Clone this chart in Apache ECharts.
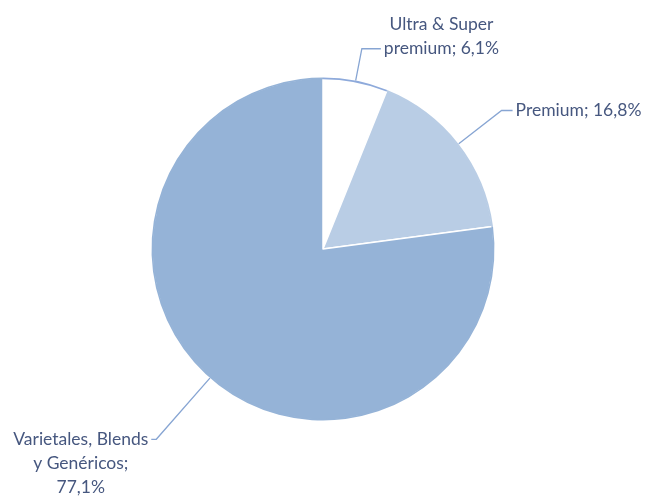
<!DOCTYPE html>
<html>
<head>
<meta charset="utf-8">
<script src="https://cdn.jsdelivr.net/npm/echarts@6/dist/echarts.min.js"></script>
<style>
  html, body { margin: 0; padding: 0; background: #ffffff; }
  #chart { width: 646px; height: 498px; }
</style>
</head>
<body>
<div id="chart"></div>
<script>
// Wine segment shares (%)
const segmentNames = ['Ultra & Super\npremium', 'Premium', 'Varietales, Blends\ny Genéricos'];
const segmentValues = [6.1, 16.8, 77.1];
// separator between name and value in each label
const valueSeparators = [' ', ' ', '\n'];

const fillColors = ['#ffffff', '#b9cde5', '#95b3d7'];
const rimColors = ['#8eaadb', '#b9cde5', '#95b3d7'];
const lineColor = '#87a5d3';
const textColor = '#46577f';
const FONT = 'Lato';
const FS = 17.5;
const LH = 24;

// per-slice label line geometry and label box padding
const lineLengths = [[33, 19], [55, 11], [82, 5]];
const labelPadding = [[0, 0, LH, 0], [0, 0, 0, 0], [2 * LH, 0, 0, 0]];

function fmtValue(v) {
  return v.toFixed(1).replace('.', ',') + '%';
}

const mainData = segmentNames.map((name, i) => ({
  name: name,
  value: segmentValues[i],
  itemStyle: { color: fillColors[i] },
  label: { padding: labelPadding[i] },
  labelLine: { length: lineLengths[i][0], length2: lineLengths[i][1] }
}));

const rimData = segmentNames.map((name, i) => ({
  name: name,
  value: segmentValues[i],
  itemStyle: { color: rimColors[i] }
}));

const chart = echarts.init(document.getElementById('chart'), null, { renderer: 'canvas' });

chart.setOption({
  backgroundColor: '#ffffff',
  animation: false,
  series: [
    {
      type: 'pie',
      center: [323, 249],
      radius: [0, 171],
      startAngle: 90,
      clockwise: true,
      avoidLabelOverlap: false,
      itemStyle: { borderColor: '#ffffff', borderWidth: 1.5 },
      label: {
        show: true,
        position: 'outside',
        alignTo: 'none',
        distanceToLabelLine: 3,
        fontFamily: FONT,
        fontSize: FS,
        lineHeight: LH,
        color: textColor,
        formatter: function (p) {
          const text = p.name + ';' + valueSeparators[p.dataIndex] + fmtValue(p.value);
          return text.split('\n').map(s => '{c|' + s + '}').join('\n');
        },
        rich: {
          c: { align: 'center', fontFamily: FONT, fontSize: FS, lineHeight: LH, color: textColor }
        }
      },
      labelLine: {
        show: true,
        smooth: false,
        lineStyle: { color: lineColor, width: 1.3 }
      },
      emphasis: { disabled: true },
      data: mainData,
      z: 2
    },
    {
      // thin outer rim drawn over the arc edge
      type: 'pie',
      silent: true,
      center: [323, 249],
      radius: [169.8, 171.5],
      startAngle: 90,
      clockwise: true,
      label: { show: false },
      labelLine: { show: false },
      itemStyle: { borderWidth: 0 },
      emphasis: { disabled: true },
      data: rimData,
      z: 3
    }
  ]
});
</script>
</body>
</html>
